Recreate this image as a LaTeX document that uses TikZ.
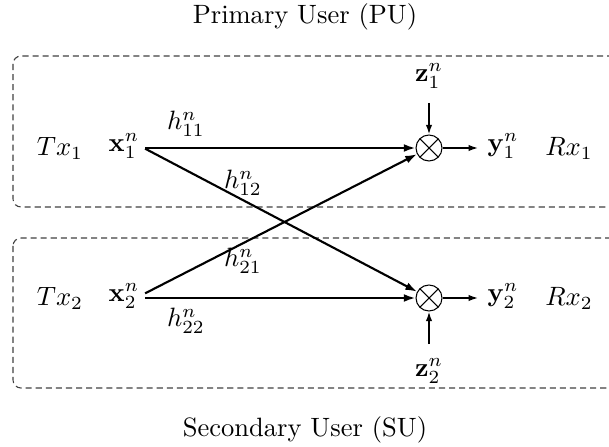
\documentclass[tikz,border=0pt]{standalone}
\usepackage{amsmath}
\usepackage{amssymb}
\usepackage{tikz}
\usetikzlibrary{arrows.meta}

\begin{document}
\begin{tikzpicture}[x=0.377pt,y=-0.377pt,
    link/.style={-{Latex[length=4.4pt,width=3pt]},thick},
    feed/.style={-{Latex[length=3.6pt,width=2.4pt]},semithick},
    src/.style={inner sep=2pt},
    mixer/.style={draw,circle,minimum size=9.8pt,inner sep=0pt,
      path picture={\draw (path picture bounding box.north west) -- (path picture bounding box.south east)
        (path picture bounding box.north east) -- (path picture bounding box.south west);}},
    userbox/.style={dash pattern=on 2.3pt off 1.5pt,black!75,rounded corners=3pt}]
    \clip (0,0) rectangle (609,446);
    % User areas
    \draw[userbox] (13,56) rectangle (640,207);
    \draw[userbox] (13,238) rectangle (640,388);
    \node (pu) at (305,17) {Primary User (PU)};
    \node (su) at (305,430) {Secondary User (SU)};
    % Primary pair
    \node (tx1) at (60,148) {$Tx_1$};
    \node[src] (x1) at (124,146) {$\mathbf{x}_1^n$};
    \node[mixer] (m1) at (429,148) {};
    \node (y1) at (503,146) {$\mathbf{y}_1^n$};
    \node (rx1) at (569,148) {$Rx_1$};
    \node (z1) at (429,76) {$\mathbf{z}_1^n$};
    % Secondary pair
    \node (tx2) at (60,298) {$Tx_2$};
    \node[src] (x2) at (124,296) {$\mathbf{x}_2^n$};
    \node[mixer] (m2) at (429,298) {};
    \node (y2) at (503,296) {$\mathbf{y}_2^n$};
    \node (rx2) at (569,298) {$Rx_2$};
    \node (z2) at (429,371) {$\mathbf{z}_2^n$};
    % Channel gains
    \node (h11) at (186,124) {$h_{11}^n$};
    \node (h12) at (243,183) {$h_{12}^n$};
    \node (h21) at (243,261) {$h_{21}^n$};
    \node (h22) at (186,321) {$h_{22}^n$};
    % Links
    \draw[link] (x1.east |- m1.west) -- (m1.west);
    \draw[link] (x2.east |- m2.west) -- (m2.west);
    \draw[link] ([yshift=-1pt]x1.east) -- (m2);
    \draw[link] ([yshift=1pt]x2.east) -- (m1);
    \draw[feed] (m1.east) -- (y1.west |- m1.east);
    \draw[feed] (m2.east) -- (y2.west |- m2.east);
    \draw[feed,shorten <=2pt] (z1) -- (m1);
    \draw[feed,shorten <=2pt] (z2) -- (m2);
\end{tikzpicture}
\end{document}
